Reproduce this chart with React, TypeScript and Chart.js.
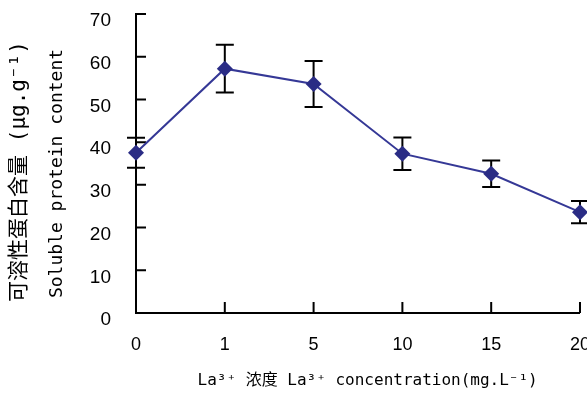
import React, { useEffect, useRef } from 'react';
import { Chart, registerables } from 'chart.js';

Chart.register(...registerables);

const categories = ['0', '1', '5', '10', '15', '20'];
const proteinMeans = [37.5, 57.2, 53.6, 37.3, 32.6, 23.6];
const proteinErrors = [3.5, 5.6, 5.4, 3.8, 3.1, 2.6];
const yMin = 0;
const yMax = 70;
const yStep = 10;
const xTitle = '  La³⁺ 浓度 La³⁺ concentration(mg.L⁻¹)';
const yTitleCn = '可溶性蛋白含量 (μg.g⁻¹)';
const yTitleEn = 'Soluble protein content';

const MONO = "'DejaVu Sans Mono', 'Noto Sans CJK SC', monospace";
const SANS = "'Liberation Sans', Arial, sans-serif";

const errorBarPlugin = {
  id: 'errorBars',
  beforeDatasetsDraw(chart: any) {
    const { ctx, scales } = chart;
    const y = scales.y;
    const meta = chart.getDatasetMeta(0);
    ctx.save();
    ctx.strokeStyle = '#000';
    ctx.lineWidth = 2;
    ctx.beginPath();
    meta.data.forEach((pt: any, i: number) => {
      const px = pt.x;
      const top = y.getPixelForValue(proteinMeans[i] + proteinErrors[i]);
      const bot = y.getPixelForValue(proteinMeans[i] - proteinErrors[i]);
      ctx.moveTo(px, top);
      ctx.lineTo(px, bot);
      ctx.moveTo(px - 9, top);
      ctx.lineTo(px + 9, top);
      ctx.moveTo(px - 9, bot);
      ctx.lineTo(px + 9, bot);
    });
    ctx.stroke();
    ctx.restore();
  },
};

const innerTicksPlugin = {
  id: 'innerTicks',
  beforeDatasetsDraw(chart: any) {
    const { ctx, chartArea, scales } = chart;
    const { x, y } = scales;
    ctx.save();
    ctx.strokeStyle = '#000';
    ctx.lineWidth = 2;
    ctx.beginPath();
    y.ticks.forEach((_t: any, i: number) => {
      const py = y.getPixelForTick(i);
      ctx.moveTo(chartArea.left, py);
      ctx.lineTo(chartArea.left + 10, py);
    });
    x.ticks.forEach((_t: any, i: number) => {
      const px = x.getPixelForTick(i);
      ctx.moveTo(px, chartArea.bottom);
      ctx.lineTo(px, chartArea.bottom - 11);
    });
    ctx.stroke();
    ctx.restore();
  },
};

const yTitlePlugin = {
  id: 'yTitle',
  afterDraw(chart: any) {
    const { ctx, chartArea } = chart;
    const cy = (chartArea.top + chartArea.bottom) / 2 + 8;
    ctx.save();
    ctx.fillStyle = '#000';
    ctx.textAlign = 'center';
    ctx.textBaseline = 'middle';
    ctx.translate(20, cy);
    ctx.rotate(-Math.PI / 2);
    ctx.font = `21px ${MONO}`;
    ctx.fillText(yTitleCn, 0, 0);
    ctx.restore();
    ctx.save();
    ctx.fillStyle = '#000';
    ctx.textAlign = 'center';
    ctx.textBaseline = 'middle';
    ctx.translate(57, cy + 2);
    ctx.rotate(-Math.PI / 2);
    ctx.font = `18px ${MONO}`;
    ctx.fillText(yTitleEn, 0, 0);
    ctx.restore();
  },
};

export default function App() {
  const ref = useRef<HTMLCanvasElement>(null);
  useEffect(() => {
    const chart = new Chart(ref.current as HTMLCanvasElement, {
      type: 'line',
      data: {
        labels: categories,
        datasets: [
          {
            data: proteinMeans,
            borderColor: '#353896',
            borderWidth: 2,
            backgroundColor: '#2a2c85',
            pointBackgroundColor: '#2a2c85',
            pointBorderColor: '#2a2c85',
            pointBorderWidth: 0,
            pointStyle: 'rectRot',
            pointRadius: 8,
            pointHoverRadius: 8,
            tension: 0,
            clip: false as any,
          },
        ],
      },
      options: {
        animation: false,
        responsive: true,
        maintainAspectRatio: false,
        layout: { autoPadding: false, padding: { top: 14, left: 0, right: 0, bottom: 0 } },
        plugins: { legend: { display: false }, tooltip: { enabled: false } },
        scales: {
          x: {
            type: 'category',
            offset: false,
            grid: {
              display: true,
              drawOnChartArea: false,
              drawTicks: true,
              tickLength: 21,
              tickColor: 'rgba(0,0,0,0)',
            },
            border: { display: true, color: '#000', width: 2 },
            ticks: {
              color: '#000',
              font: { family: SANS, size: 18 },
              padding: 0,
              maxRotation: 0,
              autoSkip: false,
            },
            title: {
              display: true,
              text: xTitle,
              color: '#000',
              font: { family: MONO, size: 16 },
              padding: { top: 0, bottom: 4 },
            },
            afterFit(scale: any) {
              scale.height = 81;
            },
          },
          y: {
            min: yMin,
            max: yMax,
            grid: {
              display: true,
              drawOnChartArea: false,
              drawTicks: true,
              tickLength: 25,
              tickColor: 'rgba(0,0,0,0)',
            },
            border: { display: true, color: '#000', width: 2 },
            ticks: {
              stepSize: yStep,
              color: '#000',
              font: { family: SANS, size: 19 },
              padding: 0,
              labelOffset: 7,
            },
            afterFit(scale: any) {
              scale.width = 136;
            },
          },
        },
      },
      plugins: [innerTicksPlugin, errorBarPlugin, yTitlePlugin],
    });
    return () => chart.destroy();
  }, []);
  return (
    <div
      style={{
        position: 'fixed',
        left: 0,
        top: 0,
        width: 587,
        height: 394,
        overflow: 'hidden',
        background: '#fff',
      }}
    >
      <div style={{ position: 'relative', width: 590, height: 394 }}>
        <canvas ref={ref} />
      </div>
    </div>
  );
}
